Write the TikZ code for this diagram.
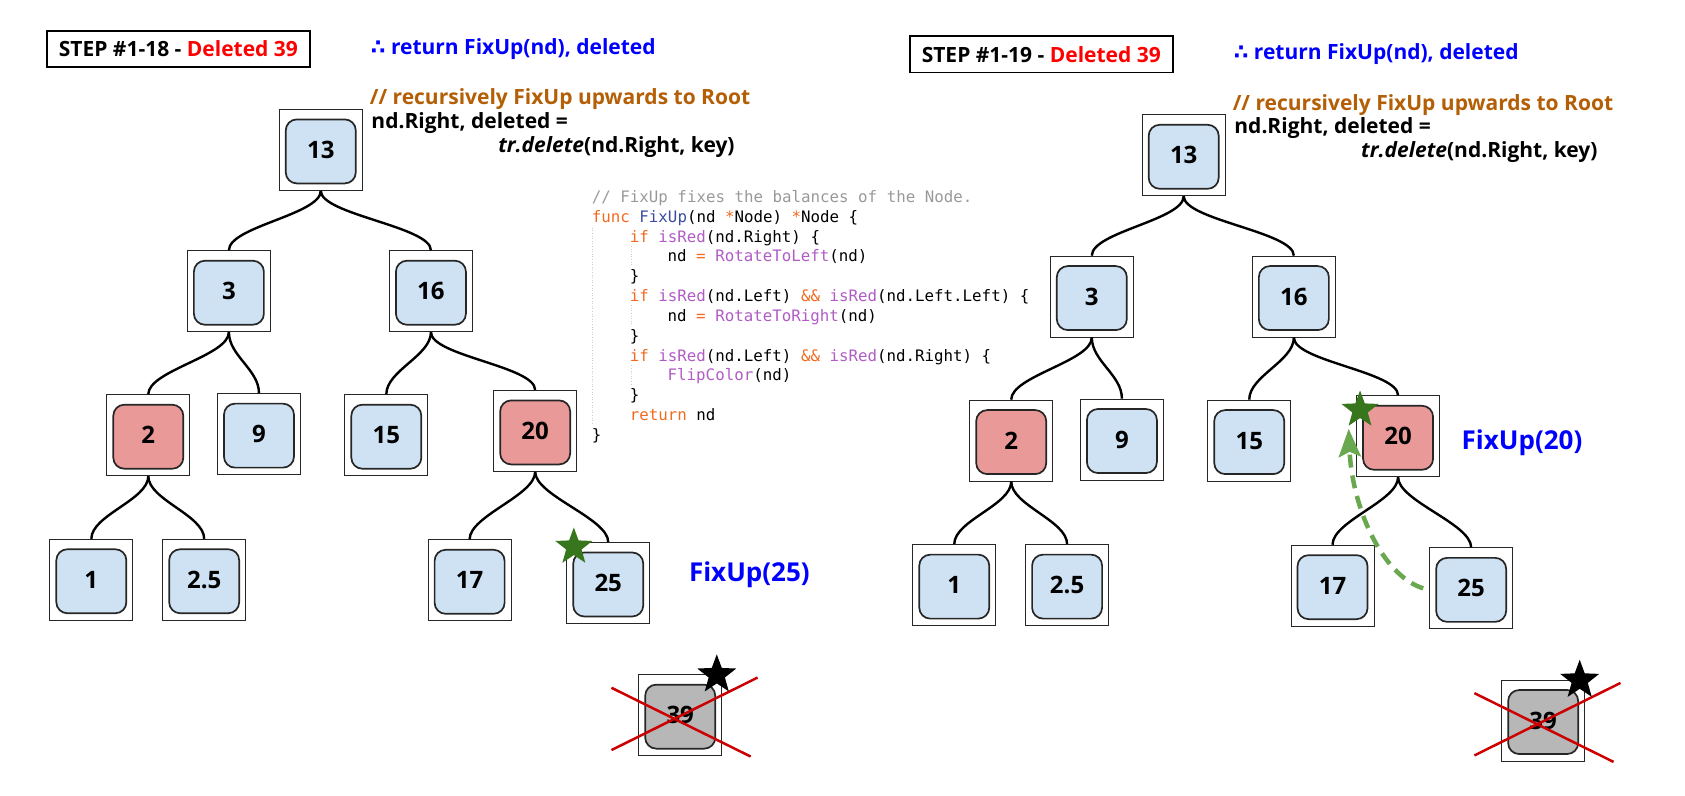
\documentclass[tikz,border=0pt]{standalone}
\usepackage{fontspec}
\setmainfont{Open Sans}
\newfontfamily\codefont{DejaVu Sans Mono}
\newfontfamily\symfont{DejaVu Sans}
\usetikzlibrary{shapes.geometric,arrows.meta}
\definecolor{nblue}{HTML}{CFE2F3}
\definecolor{nred}{HTML}{EA9999}
\definecolor{ngrey}{HTML}{B7B7B7}
\definecolor{txtblue}{HTML}{0000FF}
\definecolor{txtred}{HTML}{FF0000}
\definecolor{txtbrown}{HTML}{B45F06}
\definecolor{cmt}{HTML}{999999}
\definecolor{kwc}{HTML}{F06A20}
\definecolor{fnc}{HTML}{B05CC4}
\definecolor{fnname}{HTML}{3C4DA0}
\definecolor{guide}{HTML}{CCCCCC}
\definecolor{xred}{HTML}{CC0000}
\definecolor{sgreen}{HTML}{38761D}
\definecolor{agreen}{HTML}{6AA84F}
\newcommand\kw[1]{\textcolor{kwc}{#1}}
\newcommand\fnc[1]{\textcolor{fnc}{#1}}
\begin{document}
\begin{tikzpicture}[x=1.0746pt,y=-1.0746pt,
  tn/.style={draw=black!85, line width=0.9pt, minimum width=83pt, minimum height=81pt,
    inner sep=0pt, font=\bfseries\fontsize{24}{28}\selectfont,
    path picture={\draw[line width=1.7pt, fill=#1, rounded corners=11pt]
      ([shift={(-35pt,-33.5pt)}]path picture bounding box.center) rectangle
      ([shift={(35pt,30.5pt)}]path picture bounding box.center);}},
  tn/.default=nblue,
  conn/.style={line width=2.4pt, black},
  stepbox/.style={draw=black, line width=1.6pt, minimum width=263pt, minimum height=36.5pt,
    inner sep=0pt, font=\bfseries\fontsize{21}{25}\selectfont},
  ann/.style={anchor=base west, inner sep=0pt, font=\bfseries\fontsize{21}{25}\selectfont},
  fix/.style={anchor=west, inner sep=0pt, text=txtblue, font=\bfseries\fontsize{26}{30}\selectfont},
  codeline/.style={anchor=base west, inner sep=0pt, font=\codefont\fontsize{15.8}{18}\selectfont},
  xline/.style={draw=xred, line width=2.5pt},
  bstar/.style={star, star points=5, star point ratio=2.4, fill=black, minimum size=41pt, inner sep=0pt},
  gstar/.style={star, star points=5, star point ratio=2.4, fill=sgreen, minimum size=39pt, inner sep=0pt},
  guideline/.style={draw=guide, line width=0.6pt, dotted},
  farrow/.style={draw=agreen, line width=4.5pt, dash pattern=on 13pt off 8pt,
    -{Stealth[length=28pt,width=22pt,inset=5pt]}}
]
\useasboundingbox (0,0) rectangle (1568,740);

\foreach \p/\dx/\dy/\sn in {l/0/0/18, r/803/5/19} {
\begin{scope}[shift={(\dx,\dy)}]
  \node[stepbox] (\p-step) at (166,45.6) {STEP \#1-\sn{} - \textcolor{txtred}{Deleted 39}};
  \node[ann, text=txtblue] (\p-ret) at (345,50.5) {{\symfont\bfseries ∴} return FixUp(nd), deleted};
  \node[ann, text=txtbrown] (\p-cmt) at (344,97.7) {// recursively FixUp upwards to Root};
  \node[ann] (\p-asg) at (345.5,119.5) {nd.Right, deleted =};
  \node[ann] (\p-del) at (463.5,142) {\textit{tr.delete}(nd.Right, key)};

  \node[tn] (\p13) at (298.5,139.5) {13};
  \node[tn] (\p3) at (213,271) {3};
  \node[tn] (\p16) at (401,271) {16};
  \node[tn=nred] (\p2) at (138,405) {2};
  \node[tn] (\p9) at (241,404) {9};
  \node[tn] (\p15) at (359.5,405) {15};
  \node[tn=nred] (\p20) at (498,401) {20};
  \node[tn] (\p1) at (85,539.5) {1};
  \node[tn] (\p2h) at (190,539.5) {2.5};
  \node[tn] (\p17) at (437,540) {17};
  \node[tn] (\p25) at (566,542.5) {25};
  \node[tn=ngrey] (\p39) at (633,665.5) {39};

  \foreach \a/\b in {13/3,13/16,3/2,3/9,16/15,16/20,2/1,2/2h,20/17,20/25}
    \draw[conn] (\p\a.south) .. controls +(0,22) and +(0,-22) .. (\p\b.north);

  \draw[xline] ([shift={(-64,-25.5)}]\p39.center) -- ([shift={(65.5,38.5)}]\p39.center);
  \draw[xline] ([shift={(-64,32.5)}]\p39.center) -- ([shift={(72,-35)}]\p39.center);
  \node[bstar] (\p39s) at ([shift={(34,-37.5)}]\p39.center) {};
\end{scope}
}

% left panel extras
\node[gstar] (lgs) at (534,509) {};
\node[fix] (lfix) at (641,535) {FixUp(25)};

% code listing
\node[codeline] (c1) at (550.6,188.3) {\textcolor{cmt}{// FixUp fixes the balances of the Node.}};
\node[codeline] (c2) at (550.6,206.8) {\kw{func} \textcolor{fnname}{FixUp}(nd \kw{*}Node) \kw{*}Node \{};
\node[codeline, xshift=37.9pt] (c3) at (550.6,225.2) {\kw{if} \fnc{isRed}(nd.Right) \{};
\node[codeline, xshift=75.8pt] (c4) at (550.6,243.7) {nd \kw{=} \fnc{RotateToLeft}(nd)};
\node[codeline, xshift=37.9pt] (c5) at (550.6,262.2) {\}};
\node[codeline, xshift=37.9pt] (c6) at (550.6,280.6) {\kw{if} \fnc{isRed}(nd.Left) \kw{\&\&} \fnc{isRed}(nd.Left.Left) \{};
\node[codeline, xshift=75.8pt] (c7) at (550.6,299.1) {nd \kw{=} \fnc{RotateToRight}(nd)};
\node[codeline, xshift=37.9pt] (c8) at (550.6,317.6) {\}};
\node[codeline, xshift=37.9pt] (c9) at (550.6,336.1) {\kw{if} \fnc{isRed}(nd.Left) \kw{\&\&} \fnc{isRed}(nd.Right) \{};
\node[codeline, xshift=75.8pt] (c10) at (550.6,354.5) {\fnc{FlipColor}(nd)};
\node[codeline, xshift=37.9pt] (c11) at (550.6,373.0) {\}};
\node[codeline, xshift=37.9pt] (c12) at (550.6,391.5) {\kw{return} nd};
\node[codeline] (c13) at (550.6,410.0) {\}};
\draw[guideline] (551.5,212) -- (551.5,395);
\draw[guideline] (587,229) -- (587,248);
\draw[guideline] (587,284) -- (587,303);
\draw[guideline] (587,340) -- (587,359);

% right panel extras
\node[gstar] (rgs) at (1265.6,381.5) {};
\node[fix] (rfix) at (1360,412) {FixUp(20)};
\coordinate (rtip) at (1255,399);
\draw[farrow] ([xshift=-6pt]r25.west) .. controls (1285,535) and (1258,470) .. (rtip);
\end{tikzpicture}
\end{document}
